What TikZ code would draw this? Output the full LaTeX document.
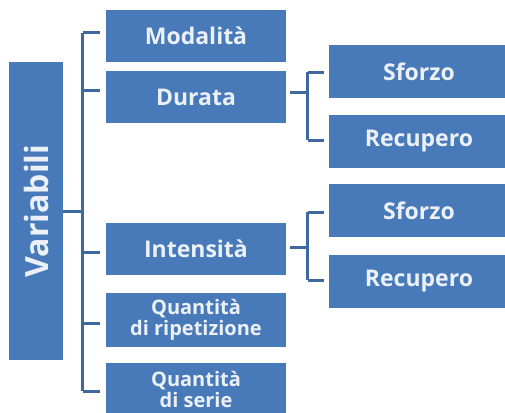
\documentclass[tikz,border=0pt]{standalone}
\usepackage{fontspec}
\setmainfont{Open Sans}
\usetikzlibrary{calc}
\definecolor{boxblue}{RGB}{72,122,186}
\definecolor{lineblue}{RGB}{62,104,160}
\definecolor{txt}{RGB}{236,241,248}
\begin{document}
\begin{tikzpicture}[x=1pt,y=-1pt,
  box/.style={fill=boxblue,draw=none,text=txt,font=\bfseries\fontsize{23}{23}\selectfont,inner sep=0pt,align=center},
  small/.style={font=\bfseries\fontsize{20}{21}\selectfont},
  conn/.style={draw=lineblue,line width=3pt}]
\useasboundingbox (0,0) rectangle (505,412);
\clip (0,0) rectangle (505,412);
\node[box,minimum width=54pt,minimum height=298pt] (var) at (36,211)
  {\rotatebox{90}{\fontsize{32}{32}\selectfont Variabili}};
\node[box,minimum width=180pt,minimum height=52pt] (mod) at (196,36) {Modalità};
\node[box,minimum width=180pt,minimum height=52pt] (dur) at (196,97) {Durata};
\node[box,minimum width=180pt,minimum height=52pt] (int) at (196,249) {Intensità};
\node[box,small,minimum width=180pt,minimum height=54pt] (qrip) at (196,320) {Quantità\\di ripetizione};
\node[box,small,minimum width=180pt,minimum height=52pt] (qser) at (196,389) {Quantità\\di serie};
\node[box,minimum width=180pt,minimum height=53pt] (sf1) at (419,71.5) {Sforzo};
\node[box,minimum width=180pt,minimum height=53pt] (rec1) at (419,141.5) {Recupero};
\node[box,minimum width=180pt,minimum height=53pt] (sf2) at (419,210.5) {Sforzo};
\node[box,minimum width=180pt,minimum height=53pt] (rec2) at (419,281.5) {Recupero};
% main bracket
\coordinate (mt) at ($(mod.west)+(-23,-3)$);
\coordinate (mb) at ($(qser.west)+(-23,2)$);
\draw[conn] (mt) -- (mb);
\draw[conn] (var.east) -- (var.east -| mt);
\draw[conn] (mt) -- ++(17,0);
\draw[conn] ($(dur.west)+(-23,-7)$) -- ++(17,0);
\draw[conn] ($(int.west)+(-23,3)$) -- ++(17,0);
\draw[conn] ($(qrip.west)+(-23,3)$) -- ++(17,0);
\draw[conn] (mb) -- ++(17,0);
% right brackets
\coordinate (r1t) at ($(sf1.west)+(-21,0.5)$);
\coordinate (r1b) at ($(rec1.west)+(-21,-1.5)$);
\draw[conn] (r1t) -- (r1b);
\draw[conn] (r1t) -- ++(16,0);
\draw[conn] (r1b) -- ++(16,0);
\draw[conn] ($(dur.east)+(4,-5)$) -- ++(18,0);
\coordinate (r2t) at ($(sf2.west)+(-21,1.5)$);
\coordinate (r2b) at ($(rec2.west)+(-21,-1.5)$);
\draw[conn] (r2t) -- (r2b);
\draw[conn] (r2t) -- ++(16,0);
\draw[conn] (r2b) -- ++(16,0);
\draw[conn] ($(int.east)+(4,-2)$) -- ++(18,0);
\end{tikzpicture}
\end{document}
